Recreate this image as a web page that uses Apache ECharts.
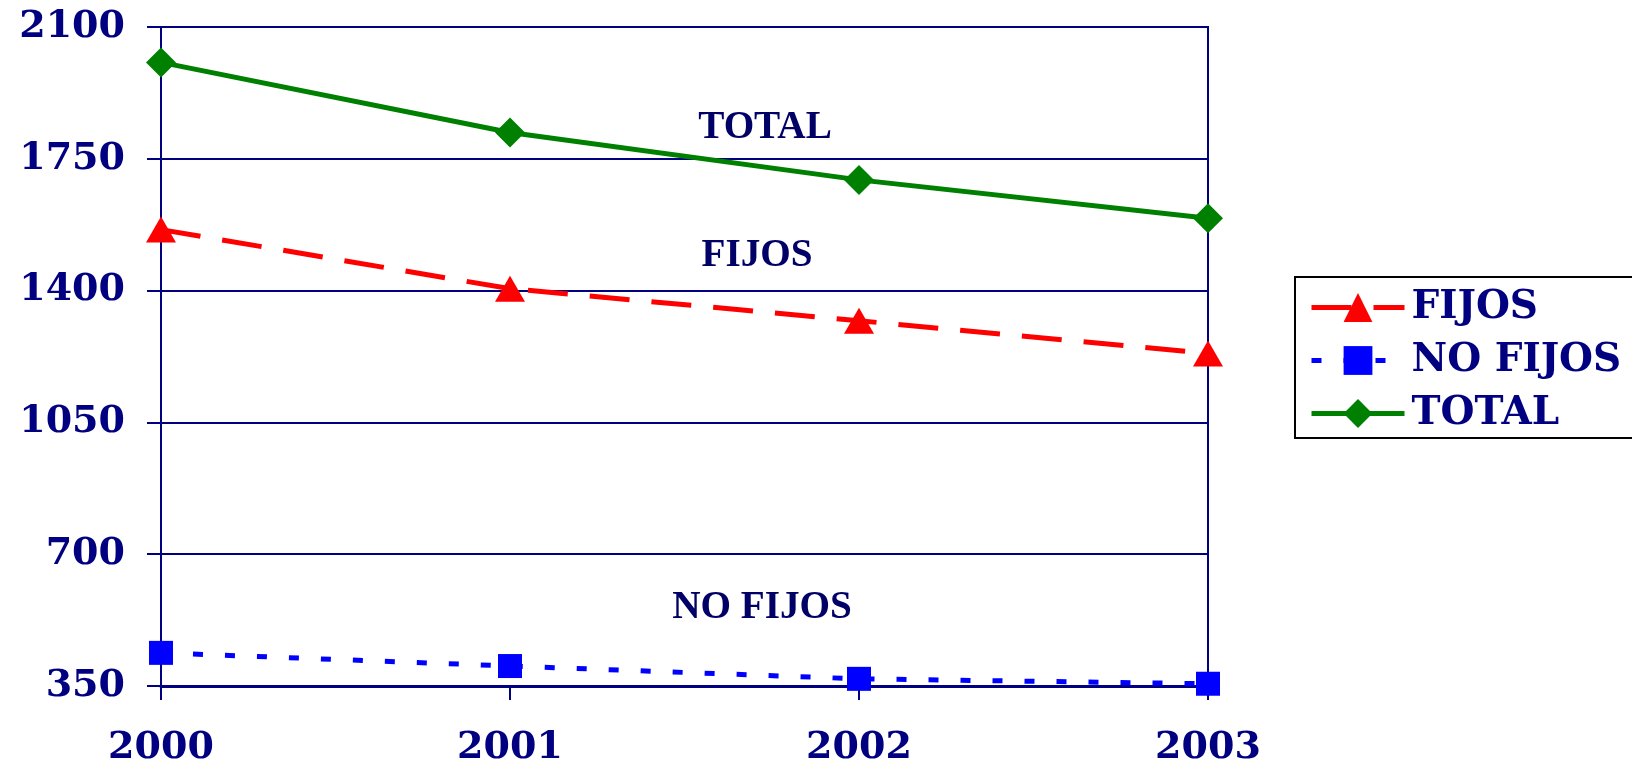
<!DOCTYPE html>
<html lang="es">
<head>
<meta charset="UTF-8">
<title>FIJOS / NO FIJOS / TOTAL</title>
<script src="https://cdn.jsdelivr.net/npm/echarts@6/dist/echarts.min.js"></script>
<style>
    * { margin: 0; padding: 0 }
    html, body { width: 100%; height: 100%; background: #fff }
    #main { width: 1632px; height: 761px }
</style>
</head>
<body>
<div id="main"></div>
<script>
    // datos
    var years = ['2000', '2001', '2002', '2003'];
    var fijos = [1562, 1405, 1320, 1233];
    var noFijos = [438, 403, 369, 356];
    var total = [2006, 1820, 1694, 1592];
    var yTicks = [350, 700, 1050, 1400, 1750, 2100];

    var navy = '#000080';
    var tickFont = 'DejaVu Serif';

    var myChart = echarts.init(document.getElementById('main'));
    var option = {
        animation: false,
        grid: {
            left: 161, right: 424, top: 27, bottom: 75,
            outerBoundsMode: 'none',
            show: true, borderColor: navy, borderWidth: 2
        },
        legend: {
            left: 1295,
            top: 277,
            orient: 'vertical',
            padding: [11, 16, 5, 14],
            itemWidth: 93,
            itemHeight: 36,
            itemGap: 14,
            borderColor: '#000',
            borderWidth: 2,
            lineStyle: { width: 5 },
            textStyle: { color: navy, fontFamily: tickFont, fontWeight: 'bold', fontSize: 39, padding: [0, 0, 0, 2] },
            data: ['FIJOS', 'NO FIJOS', 'TOTAL']
        },
        xAxis: {
            type: 'category',
            boundaryGap: false,
            data: years,
            axisLine: { lineStyle: { color: navy, width: 3 } },
            axisTick: { show: true, length: 14, lineStyle: { color: navy, width: 2 } },
            axisLabel: { color: navy, fontFamily: tickFont, fontWeight: 'bold', fontSize: 38, margin: 43 },
            splitLine: { show: false }
        },
        yAxis: {
            type: 'value',
            min: yTicks[0],
            max: yTicks[yTicks.length - 1],
            interval: 350,
            axisLine: { show: true, lineStyle: { color: navy, width: 2 } },
            axisTick: { show: true, length: 14, lineStyle: { color: navy, width: 2 } },
            axisLabel: { color: navy, fontFamily: tickFont, fontWeight: 'bold', fontSize: 38, margin: 36, formatter: function (v) { return String(v); } },
            splitLine: { show: true, lineStyle: { color: navy, width: 2 } }
        },
        series: [
            {
                name: 'FIJOS', type: 'line', data: fijos, z: 3,
                symbol: 'triangle', symbolSize: [30, 26],
                lineStyle: { color: '#ff0000', width: 5, type: [40, 22] },
                itemStyle: { color: '#ff0000' }
            },
            {
                name: 'NO FIJOS', type: 'line', data: noFijos, z: 3,
                symbol: 'rect', symbolSize: 24,
                lineStyle: { color: '#0000ff', width: 5, type: [10, 22] },
                itemStyle: { color: '#0000ff' }
            },
            {
                name: 'TOTAL', type: 'line', data: total, z: 3,
                symbol: 'diamond', symbolSize: [30, 30],
                lineStyle: { color: '#008000', width: 5 },
                itemStyle: { color: '#008000' }
            }
        ],
        graphic: [
            { type: 'text', x: 765, y: 128, scaleX: 0.98, style: { text: 'TOTAL', fill: '#000066', font: 'bold 40px "Liberation Serif"', align: 'center', verticalAlign: 'middle' } },
            { type: 'text', x: 757, y: 256, scaleX: 0.98, style: { text: 'FIJOS', fill: '#000066', font: 'bold 40px "Liberation Serif"', align: 'center', verticalAlign: 'middle' } },
            { type: 'text', x: 762, y: 608, scaleX: 0.98, style: { text: 'NO FIJOS', fill: '#000066', font: 'bold 40px "Liberation Serif"', align: 'center', verticalAlign: 'middle' } }
        ]
    };
    myChart.setOption(option);
</script>
</body>
</html>
